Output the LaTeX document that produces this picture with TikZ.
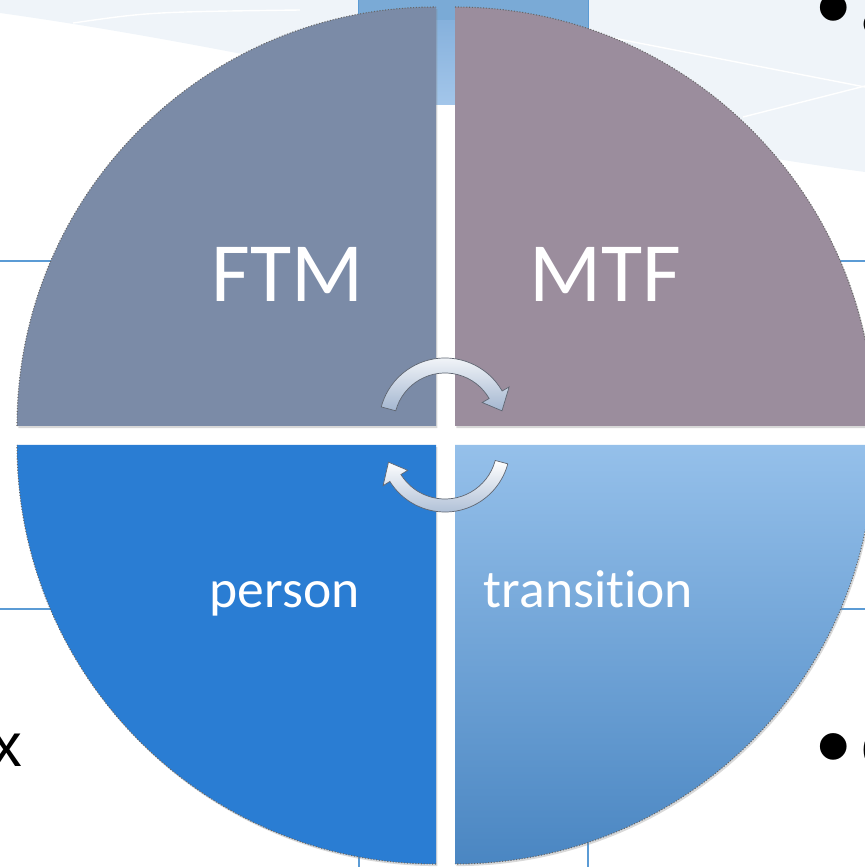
\documentclass[tikz,border=0pt]{standalone}
\usepackage{fontspec}
\setmainfont{Carlito}[Ligatures=NoCommon]
\newfontfamily\slidefont{Liberation Sans}
\usetikzlibrary{shadows}
\definecolor{ftmgray}{HTML}{7B8BA7}
\definecolor{mtfmauve}{HTML}{9B8D9D}
\definecolor{personblue}{HTML}{2A7DD3}
\definecolor{transtop}{HTML}{95C0EA}
\definecolor{transbot}{HTML}{4A86C2}
\definecolor{bandblue}{HTML}{EFF4F9}
\definecolor{gridblue}{HTML}{5B9BD5}
\definecolor{cellblue}{HTML}{7AAAD6}
\definecolor{gaptop}{HTML}{86B1DC}
\definecolor{gapbot}{HTML}{A3C6EA}
\definecolor{arrowedge}{HTML}{5F6672}
\definecolor{arrowshade}{HTML}{A3B6D0}
\tikzset{
  quadrant/.style={drop shadow={opacity=0.3,shadow xshift=0.8pt,shadow yshift=-1.2pt}},
  rim/.style={densely dotted,black!60,line width=0.6pt},
  quadlabel/.style={text=white,inner sep=0pt,anchor=base},
  biglabel/.style={quadlabel,font=\fontsize{48}{50}\selectfont},
  smalllabel/.style={quadlabel,font=\fontsize{30.5}{34}\selectfont},
  cyclearrow/.style={top color=white,bottom color=arrowshade,draw=arrowedge,line width=0.4pt},
  gridline/.style={gridblue,line width=1.2pt},
  slidetext/.style={inner sep=0pt,font=\slidefont\fontsize{35}{40}\selectfont},
  bulletmark/.style={inner sep=0pt,font=\slidefont\fontsize{56}{60}\selectfont}
}
\begin{document}
\begin{tikzpicture}[x=0.02cm,y=0.02cm]
\useasboundingbox (0,0) rectangle (865,867);
% slide background
\fill[bandblue] (0,867) -- (0,854) .. controls (300,812) and (600,730) .. (865,695) -- (865,867) -- cycle;
\draw[white,line width=0.8pt] (73,844) .. controls (150,855) .. (300,857);
\draw[white,line width=0.8pt] (613,829) -- (865,780);
\draw[white,line width=0.8pt] (743,750) -- (865,781);
% table grid behind
\draw[gridline] (0,606) -- (865,606);
\draw[gridline] (0,258) -- (865,258);
\draw[gridline] (359,0) -- (359,867);
\draw[gridline] (588,0) -- (588,867);
\fill[white] (436,4) rectangle (455,859);
\fill[white] (17,422) rectangle (865,441);
\fill[cellblue] (359,830) rectangle (588,867);
\shade[top color=gaptop,bottom color=gapbot] (436,762) rectangle (455,846);
% quadrants
\fill[ftmgray,quadrant] (436,441) -- (17,441) arc[start angle=180,end angle=90,radius=419] -- cycle;
\fill[mtfmauve,quadrant] (455,441) -- (455,860) arc[start angle=90,end angle=0,radius=419] -- cycle;
\fill[personblue,quadrant] (436,422) -- (436,3) arc[start angle=270,end angle=180,radius=419] -- cycle;
\shade[top color=transtop,bottom color=transbot,quadrant] (455,422) -- (874,422) arc[start angle=0,end angle=-90,radius=419] -- cycle;
\draw[rim] (17,441) arc[start angle=180,end angle=90,radius=419];
\draw[rim] (455,860) arc[start angle=90,end angle=0,radius=419];
\draw[rim] (436,3) arc[start angle=270,end angle=180,radius=419];
\draw[rim] (874,422) arc[start angle=0,end angle=-90,radius=419];
% labels
\node[biglabel] (ftm) at (287.5,565) {FTM};
\node[biglabel] (mtf) at (605,565) {MTF};
\node[smalllabel] (person) at (284.5,259) {person};
\node[smalllabel] (transition) at (588.5,259) {transit\kern0pt ion};
% cycle arrows
\begin{scope}[shift={(445,443)}]
\path[cyclearrow] (165:51) arc[start angle=165,end angle=30,radius=51] -- (30:43) -- (13:58.5) -- (30:74) -- (30:66) arc[start angle=30,end angle=165,radius=66] -- cycle;
\end{scope}
\begin{scope}[shift={(445,420)}]
\path[cyclearrow] (-15:52) arc[start angle=-15,end angle=-148,radius=52] -- (-148:44) -- (-165:58.5) -- (-148:73) -- (-148:65) arc[start angle=-148,end angle=-15,radius=65] -- cycle;
\end{scope}
% slide text around
\node[slidetext,anchor=base east] (xleft) at (23,100) {x};
\node[bulletmark] (bullettop) at (834,849) {•};
\node[slidetext,anchor=base west] (texttop) at (861,833) {a};
\node[bulletmark] (bulletbottom) at (834,110) {•};
\node[slidetext,anchor=base west] (textbottom) at (861,100) {c};
\end{tikzpicture}
\end{document}
